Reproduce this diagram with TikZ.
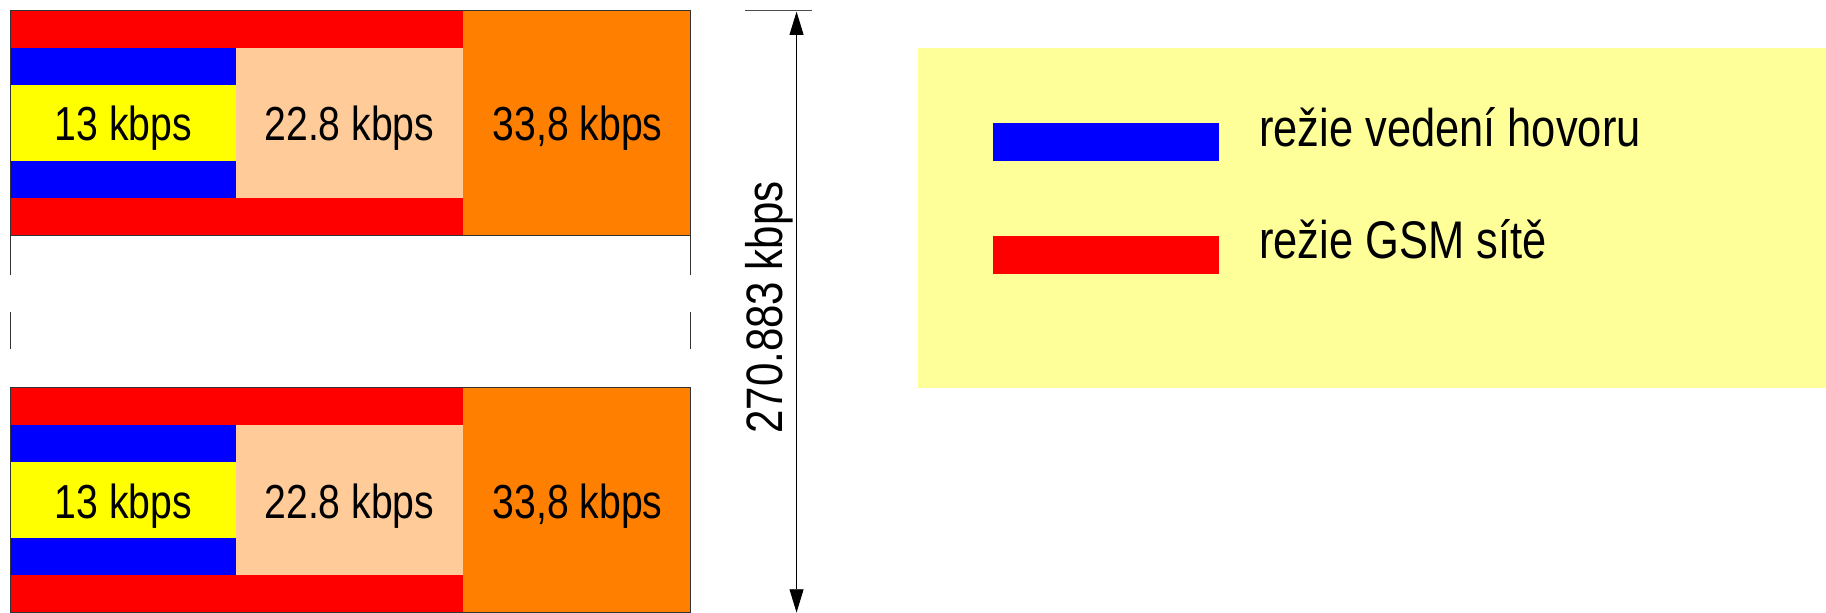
\documentclass[tikz,border=0pt]{standalone}
\usepackage{fontspec}
\setmainfont{Liberation Sans}
\newfontfamily\narrowfont[FakeStretch=0.82]{Liberation Sans}
\usetikzlibrary{arrows.meta}
\definecolor{bandred}{RGB}{255,0,0}
\definecolor{bandblue}{RGB}{0,0,255}
\definecolor{voiceyellow}{RGB}{255,255,0}
\definecolor{codedpeach}{RGB}{255,204,153}
\definecolor{burstorange}{RGB}{255,128,0}
\definecolor{legendyellow}{RGB}{255,255,153}
\tikzset{
  celltext/.style={inner sep=0pt, anchor=base, font=\narrowfont\fontsize{41}{41}\selectfont},
  legendtext/.style={inner sep=0pt, anchor=base west, font=\narrowfont\fontsize{45.5}{45.5}\selectfont},
  outline/.style={draw=black!80, line width=1pt},
  dimline/.style={line width=0.8pt, {Triangle[length=20pt,width=12pt]}-{Triangle[length=20pt,width=12pt]}},
}
\begin{document}
\begin{tikzpicture}[x=1pt, y=-1pt]
\useasboundingbox (0,0) rectangle (1568,526);
% one frame: red GSM overhead, blue signalling overhead, payload columns
\foreach \dy/\tag in {0/a, 324/b} {
  \begin{scope}[yshift=-\dy pt]
    \fill[bandred] (9,9) rectangle (398,41);
    \fill[bandred] (9,170) rectangle (398,202);
    \fill[bandblue] (9,41) rectangle (203,73);
    \fill[bandblue] (9,138) rectangle (203,170);
    \fill[voiceyellow] (9,73) rectangle (203,138);
    \fill[codedpeach] (203,41) rectangle (398,170);
    \fill[burstorange] (398,9) rectangle (593,202);
    \draw[outline] (9,9) rectangle (593,202);
    \node[celltext] (voice\tag) at (106,121) {13 kbps};
    \node[celltext] (coded\tag) at (300,121) {22.8 kbps};
    \node[celltext] (burst\tag) at (496,121) {33,8 kbps};
  \end{scope}
}
% side edges continuing between the frames
\draw[outline] (9,202) -- (9,236) (593,202) -- (593,236);
\draw[outline] (9,268) -- (9,300) (593,268) -- (593,300);
% overall rate dimension
\coordinate (dimtop) at (684,10);
\coordinate (dimbot) at (684,526);
\draw[line width=1pt, black!70] (640,9) -- (697,9);
\draw[dimline] (dimbot) -- (dimtop);
\node[inner sep=0pt, anchor=base, rotate=90, font=\narrowfont\fontsize{44}{44}\selectfont] (rate) at (672,264) {270.883 kbps};
% legend
\fill[legendyellow] (788,41) rectangle (1568,333);
\fill[bandblue] (853,106) rectangle (1047,138);
\fill[bandred] (853,203) rectangle (1047,235);
\node[legendtext] (legsig) at (1081,126) {režie vedení hovoru};
\node[legendtext] (leggsm) at (1081,222) {režie GSM sítě};
\end{tikzpicture}
\end{document}
